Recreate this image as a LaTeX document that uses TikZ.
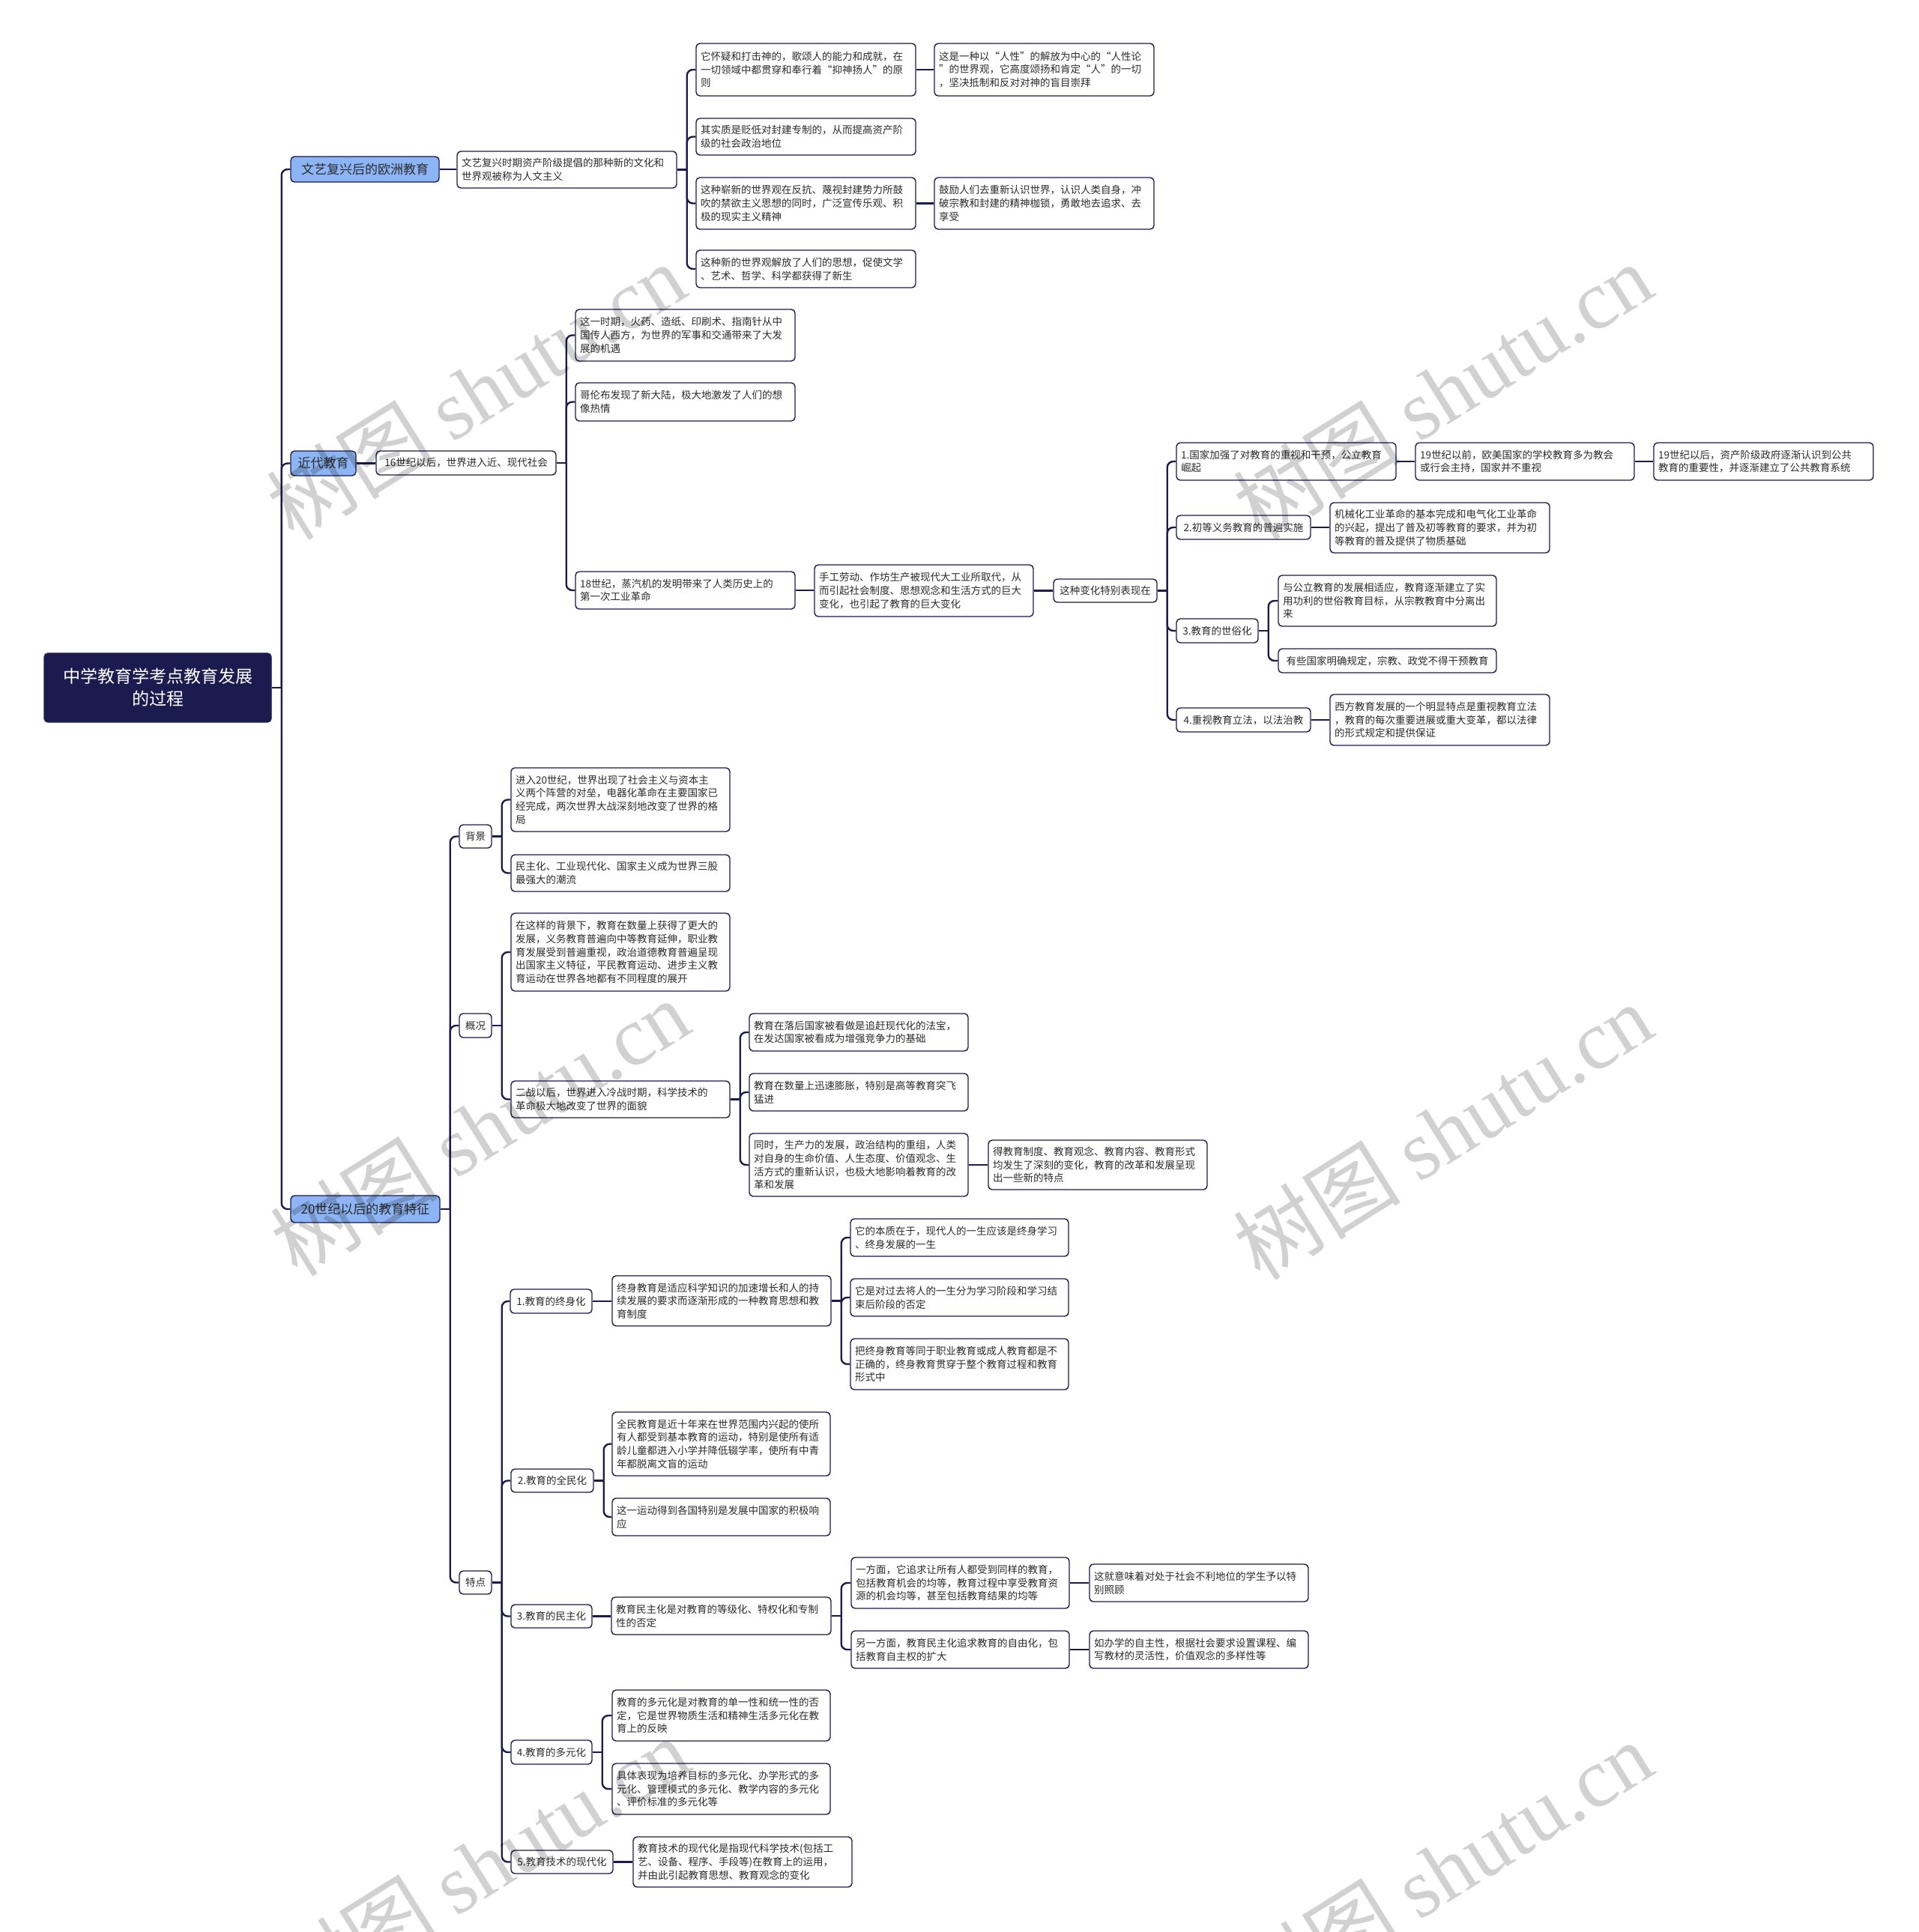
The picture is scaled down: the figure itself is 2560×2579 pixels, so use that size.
\documentclass[tikz,border=0pt]{standalone}
\usepackage{fontspec}
\setmainfont{Noto Sans CJK SC}
\newfontfamily\wmfont{Liberation Serif}
\definecolor{navy}{HTML}{1C1B4F}
\definecolor{lvone}{HTML}{8DB4F4}
\definecolor{txt}{HTML}{2B2B2B}
\tikzset{
  box/.style={draw=navy, line width=1.4pt, fill=white, rounded corners=5pt,
    inner xsep=6pt, inner ysep=3pt, align=left, text=txt,
    font=\fontsize{13.5pt}{17.7pt}\selectfont},
  one/.style={align=center},
  lv1/.style={fill=lvone, align=center, font=\fontsize{17pt}{21pt}\selectfont},
  rootst/.style={fill=navy, draw=navy, text=white, align=center,
    font=\fontsize{23pt}{30pt}\selectfont},
  conn/.style={draw=navy, line width=2.4pt, rounded corners=8pt},
  wm/.style={text=black, opacity=0.18, font=\fontsize{112pt}{112pt}\selectfont}
}
\newcommand\mnode[7][]{%
  \pgfmathsetmacro\bxw{#5-#3}%
  \pgfmathsetmacro\bxh{#6-#4}%
  \pgfmathsetmacro\bxt{#5-#3-12}%
  \pgfmathsetmacro\bxcx{(#3+#5)/2}%
  \pgfmathsetmacro\bxcy{(#4+#6)/2}%
  \node[box,#1,minimum width=\bxw pt,minimum height=\bxh pt,text width=\bxt pt] (#2) at (\bxcx,\bxcy) {#7};}
\newcommand\fan[2]{%
  \draw[conn] (#1.east) -- ++(13,0) coordinate (#1-bk);
  \foreach \c in {#2} \draw[conn] (#1-bk) |- (\c.west);}
\newcommand\lnk[2]{\draw[conn] (#1.east) -- (#1.east -| #2.west);}
\begin{document}
\begin{tikzpicture}[x=1pt,y=-1pt]
\fill[white] (0,0) rectangle (2560,2579);
\useasboundingbox (0,0) rectangle (2560,2579);

% root and level 1
\mnode[rootst]{root}{59}{872}{362}{964}{中学教育学考点教育发展\\的过程}
\mnode[lv1]{A}{388}{209}{586}{243}{文艺复兴后的欧洲教育}
\mnode[lv1]{B}{388}{602}{475}{635}{近代教育}
\mnode[lv1]{C}{388}{1596}{587}{1632}{20世纪以后的教育特征}

% Renaissance branch
\mnode{a0}{610}{202}{903}{251}{文艺复兴时期资产阶级提倡的那种新的文化和\\世界观被称为人文主义}
\mnode{c1}{929}{58}{1222}{128}{它怀疑和打击神的，歌颂人的能力和成就，在\\一切领域中都贯穿和奉行着“抑神扬人”的原\\则}
\mnode{c1a}{1247}{58}{1540}{128}{这是一种以“人性”的解放为中心的“人性论\\”的世界观，它高度颂扬和肯定“人”的一切\\，坚决抵制和反对对神的盲目崇拜}
\mnode{c2}{929}{158}{1222}{207}{其实质是贬低对封建专制的，从而提高资产阶\\级的社会政治地位}
\mnode{c3}{929}{237}{1222}{306}{这种崭新的世界观在反抗、蔑视封建势力所鼓\\吹的禁欲主义思想的同时，广泛宣传乐观、积\\极的现实主义精神}
\mnode{c3a}{1247}{237}{1540}{306}{鼓励人们去重新认识世界，认识人类自身，冲\\破宗教和封建的精神枷锁，勇敢地去追求、去\\享受}
\mnode{c4}{929}{334}{1222}{384}{这种新的世界观解放了人们的思想，促使文学\\、艺术、哲学、科学都获得了新生}

% Modern branch
\mnode[one]{b0}{502}{602}{742}{634}{16世纪以后，世界进入近、现代社会}
\mnode{d1}{768}{413}{1061}{482}{这一时期，火药、造纸、印刷术、指南针从中\\国传人西方，为世界的军事和交通带来了大发\\展的机遇}
\mnode{d2}{768}{511}{1061}{562}{哥伦布发现了新大陆，极大地激发了人们的想\\像热情}
\mnode{d3}{768}{763}{1061}{813}{18世纪，蒸汽机的发明带来了人类历史上的\\第一次工业革命}
\mnode{hand}{1087}{754}{1379}{823}{手工劳动、作坊生产被现代大工业所取代，从\\而引起社会制度、思想观念和生活方式的巨大\\变化，也引起了教育的巨大变化}
\mnode[one]{chg}{1406}{773}{1544}{804}{这种变化特别表现在}
\mnode{e1}{1570}{591}{1863}{641}{1.国家加强了对教育的重视和干预，公立教育\\崛起}
\mnode{e1a}{1889}{591}{2181}{641}{19世纪以前，欧美国家的学校教育多为教会\\或行会主持，国家并不重视}
\mnode{e1b}{2207}{591}{2500}{641}{19世纪以后，资产阶级政府逐渐认识到公共\\教育的重要性，并逐渐建立了公共教育系统}
\mnode[one]{e2}{1570}{688}{1749}{720}{2.初等义务教育的普遍实施}
\mnode{e2a}{1775}{671}{2068}{738}{机械化工业革命的基本完成和电气化工业革命\\的兴起，提出了普及初等教育的要求，并为初\\等教育的普及提供了物质基础}
\mnode[one]{e3}{1570}{826}{1679}{858}{3.教育的世俗化}
\mnode{e3a}{1706}{768}{1997}{836}{与公立教育的发展相适应，教育逐渐建立了实\\用功利的世俗教育目标，从宗教教育中分离出\\来}
\mnode[one]{e3b}{1706}{866}{1997}{898}{有些国家明确规定，宗教、政党不得干预教育}
\mnode[one]{e4}{1570}{945}{1749}{977}{4.重视教育立法，以法治教}
\mnode{e4a}{1775}{927}{2068}{995}{西方教育发展的一个明显特点是重视教育立法\\，教育的每次重要进展或重大变革，都以法律\\的形式规定和提供保证}

% 20th century branch
\mnode[one]{bj}{613}{1101}{656}{1132}{背景}
\mnode[one]{gk}{613}{1353}{656}{1385}{概况}
\mnode[one]{td}{613}{2097}{656}{2128}{特点}
\mnode{f1}{682}{1025}{974}{1110}{进入20世纪，世界出现了社会主义与资本主\\义两个阵营的对垒，电器化革命在主要国家已\\经完成，两次世界大战深刻地改变了世界的格\\局}
\mnode{f2}{682}{1141}{974}{1190}{民主化、工业现代化、国家主义成为世界三股\\最强大的潮流}
\mnode{g1}{682}{1219}{974}{1323}{在这样的背景下，教育在数量上获得了更大的\\发展，义务教育普遍向中等教育延伸，职业教\\育发展受到普遍重视，政治道德教育普遍呈现\\出国家主义特征，平民教育运动、进步主义教\\育运动在世界各地都有不同程度的展开}
\mnode{g2}{682}{1443}{974}{1492}{二战以后，世界进入冷战时期，科学技术的\\革命极大地改变了世界的面貌}
\mnode{h1}{1000}{1353}{1292}{1403}{教育在落后国家被看做是追赶现代化的法宝，\\在发达国家被看成为增强竞争力的基础}
\mnode{h2}{1000}{1433}{1292}{1483}{教育在数量上迅速膨胀，特别是高等教育突飞\\猛进}
\mnode{h3}{1000}{1513}{1292}{1597}{同时，生产力的发展，政治结构的重组，人类\\对自身的生命价值、人生态度、价值观念、生\\活方式的重新认识，也极大地影响着教育的改\\革和发展}
\mnode{h3a}{1319}{1522}{1611}{1588}{得教育制度、教育观念、教育内容、教育形式\\均发生了深刻的变化，教育的改革和发展呈现\\出一些新的特点}
\mnode[one]{k1}{681}{1721}{790}{1753}{1.教育的终身化}
\mnode{k1a}{817}{1703}{1109}{1770}{终身教育是适应科学知识的加速增长和人的持\\续发展的要求而逐渐形成的一种教育思想和教\\育制度}
\mnode{k1b1}{1135}{1627}{1426}{1677}{它的本质在于，现代人的一生应该是终身学习\\、终身发展的一生}
\mnode{k1b2}{1135}{1707}{1426}{1757}{它是对过去将人的一生分为学习阶段和学习结\\束后阶段的否定}
\mnode{k1b3}{1135}{1787}{1426}{1855}{把终身教育等同于职业教育或成人教育都是不\\正确的，终身教育贯穿于整个教育过程和教育\\形式中}
\mnode[one]{k2}{682}{1961}{792}{1992}{2.教育的全民化}
\mnode{k2a}{817}{1885}{1108}{1970}{全民教育是近十年来在世界范围内兴起的使所\\有人都受到基本教育的运动，特别是使所有适\\龄儿童都进入小学并降低辍学率，使所有中青\\年都脱离文盲的运动}
\mnode{k2b}{817}{2000}{1108}{2050}{这一运动得到各国特别是发展中国家的积极响\\应}
\mnode[one]{k3}{682}{2142}{790}{2173}{3.教育的民主化}
\mnode{k3a}{816}{2132}{1109}{2182}{教育民主化是对教育的等级化、特权化和专制\\性的否定}
\mnode{k3b1}{1136}{2079}{1427}{2147}{一方面，它追求让所有人都受到同样的教育，\\包括教育机会的均等，教育过程中享受教育资\\源的机会均等，甚至包括教育结果的均等}
\mnode{k3b2}{1136}{2177}{1427}{2227}{另一方面，教育民主化追求教育的自由化，包\\括教育自主权的扩大}
\mnode{k3c1}{1454}{2088}{1746}{2138}{这就意味着对处于社会不利地位的学生予以特\\别照顾}
\mnode{k3c2}{1454}{2177}{1746}{2227}{如办学的自主性，根据社会要求设置课程、编\\写教材的灵活性，价值观念的多样性等}
\mnode[one]{k4}{682}{2323}{790}{2355}{4.教育的多元化}
\mnode{k4a}{817}{2256}{1108}{2324}{教育的多元化是对教育的单一性和统一性的否\\定，它是世界物质生活和精神生活多元化在教\\育上的反映}
\mnode{k4b}{817}{2354}{1108}{2422}{具体表现为培养目标的多元化、办学形式的多\\元化、管理模式的多元化、教学内容的多元化\\、评价标准的多元化等}
\mnode[one]{k5}{682}{2470}{818}{2501}{5.教育技术的现代化}
\mnode{k5a}{845}{2452}{1137}{2519}{教育技术的现代化是指现代科学技术(包括工\\艺、设备、程序、手段等)在教育上的运用，\\并由此引起教育思想、教育观念的变化}

% connectors
\fan{root}{A,B,C}
\lnk{A}{a0}
\fan{a0}{c1,c2,c3,c4}
\lnk{c1}{c1a}
\lnk{c3}{c3a}
\lnk{B}{b0}
\fan{b0}{d1,d2,d3}
\lnk{d3}{hand}
\lnk{hand}{chg}
\fan{chg}{e1,e2,e3,e4}
\lnk{e1}{e1a}
\lnk{e1a}{e1b}
\lnk{e2}{e2a}
\fan{e3}{e3a,e3b}
\lnk{e4}{e4a}
\fan{C}{bj,gk,td}
\fan{bj}{f1,f2}
\fan{gk}{g1,g2}
\fan{g2}{h1,h2,h3}
\lnk{h3}{h3a}
\fan{td}{k1,k2,k3,k4,k5}
\lnk{k1}{k1a}
\fan{k1a}{k1b1,k1b2,k1b3}
\fan{k2}{k2a,k2b}
\lnk{k3}{k3a}
\fan{k3a}{k3b1,k3b2}
\lnk{k3b1}{k3c1}
\lnk{k3b2}{k3c2}
\fan{k4}{k4a,k4b}
\lnk{k5}{k5a}

% watermarks
\foreach \wx/\wy [count=\i] in {635/522, 1925/522, 640/1505, 1925/1510, 640/2490, 1925/2495}
  \node[wm, rotate=32] (wm\i) at (\wx,\wy) {树图 {\wmfont shutu.cn}};
\end{tikzpicture}
\end{document}
